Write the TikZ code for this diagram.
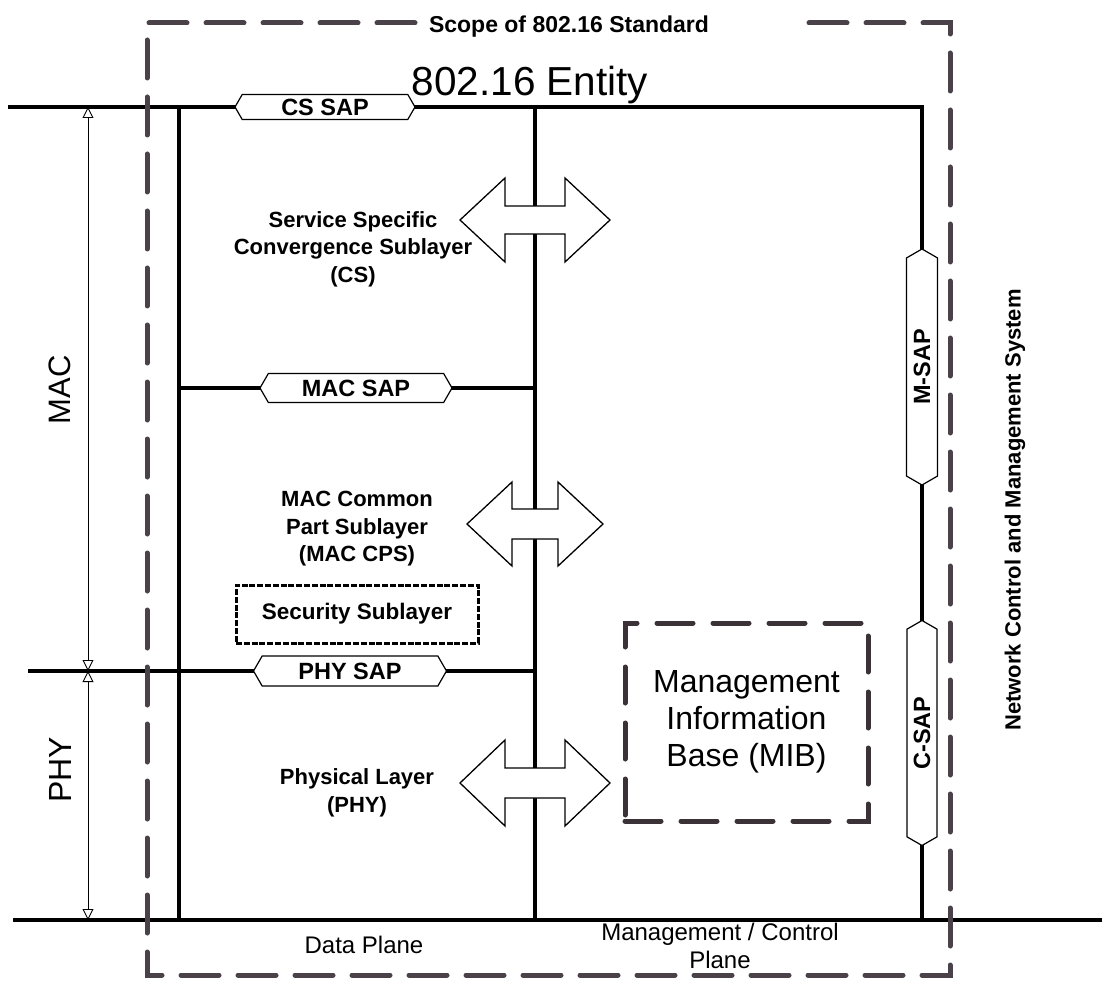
\documentclass[tikz,border=0pt]{standalone}
\usepackage{fontspec}
\setmainfont{Liberation Sans}
\usetikzlibrary{shapes.symbols,arrows.meta}
\definecolor{dashgrey}{HTML}{4A4248}
\definecolor{mibgrey}{HTML}{3A3236}
\begin{document}
\begin{tikzpicture}[x=1pt,y=-1pt,
  frame/.style={line width=3.5pt, line cap=rect},
  sapbox/.style={signal, signal to=east and west, signal pointer angle=120, draw, line width=1.2pt, fill=white, inner sep=0pt, font=\fontsize{23.5}{27}\selectfont\bfseries},
  blockarrow/.style={draw, line width=1.3pt, fill=white, line join=miter},
  lbl/.style={align=center, font=\fontsize{22}{27.5}\selectfont\bfseries, inner sep=0pt},
  dimline/.style={line width=0.9pt, {Triangle[open,length=11pt,width=11pt]}-{Triangle[open,length=11pt,width=11pt]}},
  scopeline/.style={dashgrey, line width=5pt, dash pattern=on 38pt off 19pt, line cap=round},
  mibdash/.style={draw=mibgrey, line width=5pt, dash pattern=on 36pt off 20pt, line cap=round},
  secdash/.style={draw, line width=3pt, dash pattern=on 6pt off 1.8pt},
]
\useasboundingbox (0,0) rectangle (1102,981);
% coordinates
\coordinate (topL) at (10,107);
\coordinate (topR) at (922,107);
\coordinate (botRv) at (922,920);
\coordinate (botL) at (15,920);
\coordinate (botR) at (1102,920);
\coordinate (lvT) at (179,107); \coordinate (lvB) at (179,920);
\coordinate (mvT) at (535,107); \coordinate (mvB) at (535,920);
\coordinate (macL) at (179,388); \coordinate (macR) at (535,388);
\coordinate (phyL) at (30,671); \coordinate (phyR) at (535,671);
\coordinate (dT) at (88,107); \coordinate (dM) at (88,671); \coordinate (dB) at (88,920);
% solid frame
\draw[frame] (topL) -- (topR) -- (botRv);
\draw[frame] (botL) -- (botR);
\draw[frame] (lvT) -- (lvB);
\draw[frame] (mvT) -- (mvB);
\draw[frame] (macL) -- (macR);
\draw[frame] (phyL) -- (phyR);
% dimension arrows
\draw[dimline] (dT) -- (dM);
\draw[dimline] (dM) -- (dB);
% scope dashed box
\coordinate (s1) at (415,23); \coordinate (s2) at (147,23); \coordinate (s3) at (147,975);
\coordinate (s4) at (950,975); \coordinate (s5) at (950,23); \coordinate (s6) at (800,23);
\draw[scopeline] (s1) -- (s2) -- (s3) -- (s4) -- (s5) -- (s6);
\node[anchor=base, font=\fontsize{23}{27}\selectfont\bfseries, inner sep=0pt] (scopetxt) at (569,33) {Scope of 802.16 Standard};
\node[anchor=base, font=\fontsize{40.5}{48}\selectfont, inner sep=0pt] (entity) at (530,96) {802.16 Entity};
% SAPs
\node[sapbox, minimum width=180pt, minimum height=25pt] (cssap) at (325,107) {CS SAP};
\node[sapbox, minimum width=192pt, minimum height=29pt] (macsap) at (356,388) {MAC SAP};
\node[sapbox, minimum width=193pt, minimum height=30pt] (physap) at (350,671) {PHY SAP};
\node[sapbox, rotate=90, minimum width=236pt, minimum height=31pt] (msap) at (922,367) {M-SAP};
\node[sapbox, rotate=90, minimum width=225pt, minimum height=30pt] (csap) at (922,733) {C-SAP};
% block arrows
\coordinate (arrcs) at (535,220);
\coordinate (arrcps) at (535,524);
\coordinate (arrphy) at (535,783);
\path[blockarrow] (arrcs) ++(-75,0) -- ++(45,-42) -- ++(0,28) -- ++(60,0) -- ++(0,-28) -- ++(45,42) -- ++(-45,42) -- ++(0,-28) -- ++(-60,0) -- ++(0,28) -- cycle;
\path[blockarrow] (arrcps) ++(-68,0) -- ++(45,-42) -- ++(0,27) -- ++(46,0) -- ++(0,-27) -- ++(45,42) -- ++(-45,42) -- ++(0,-27) -- ++(-46,0) -- ++(0,27) -- cycle;
\path[blockarrow] (arrphy) ++(-75,0) -- ++(45,-43) -- ++(0,28) -- ++(60,0) -- ++(0,-28) -- ++(45,43) -- ++(-45,43) -- ++(0,-28) -- ++(-60,0) -- ++(0,28) -- cycle;
% labels
\node[lbl] (cs) at (353,249) {Service Specific\\Convergence Sublayer\\(CS)};
\node[lbl] (cps) at (357,529) {MAC Common\\Part Sublayer\\(MAC CPS)};
\node[lbl] (phy) at (357,793) {Physical Layer\\(PHY)};
\node[secdash, minimum width=242pt, minimum height=58pt, inner sep=0pt, font=\fontsize{22.5}{26}\selectfont\bfseries] (sec) at (357,614) {Security Sublayer};
\node[mibdash, minimum width=243pt, minimum height=198pt, align=center, inner sep=0pt, font=\fontsize{32}{37}\selectfont] (mib) at (746.5,722) {Management\\Information\\Base (MIB)};
\node[rotate=90, font=\fontsize{31}{36}\selectfont, inner sep=0pt] (mac) at (60,390) {MAC};
\node[rotate=90, font=\fontsize{32}{36}\selectfont, inner sep=0pt] (phylbl) at (60,770) {PHY};
\node[rotate=90, font=\fontsize{22}{26}\selectfont\bfseries, inner sep=0pt] (ncms) at (1015,510) {Network Control and Management System};
\node[anchor=base, font=\fontsize{24}{28}\selectfont, inner sep=0pt] (dplane) at (364,953) {Data Plane};
\node[align=center, font=\fontsize{24}{28}\selectfont, inner sep=0pt] (mplane) at (720,946) {Management / Control\\Plane};
\end{tikzpicture}
\end{document}
